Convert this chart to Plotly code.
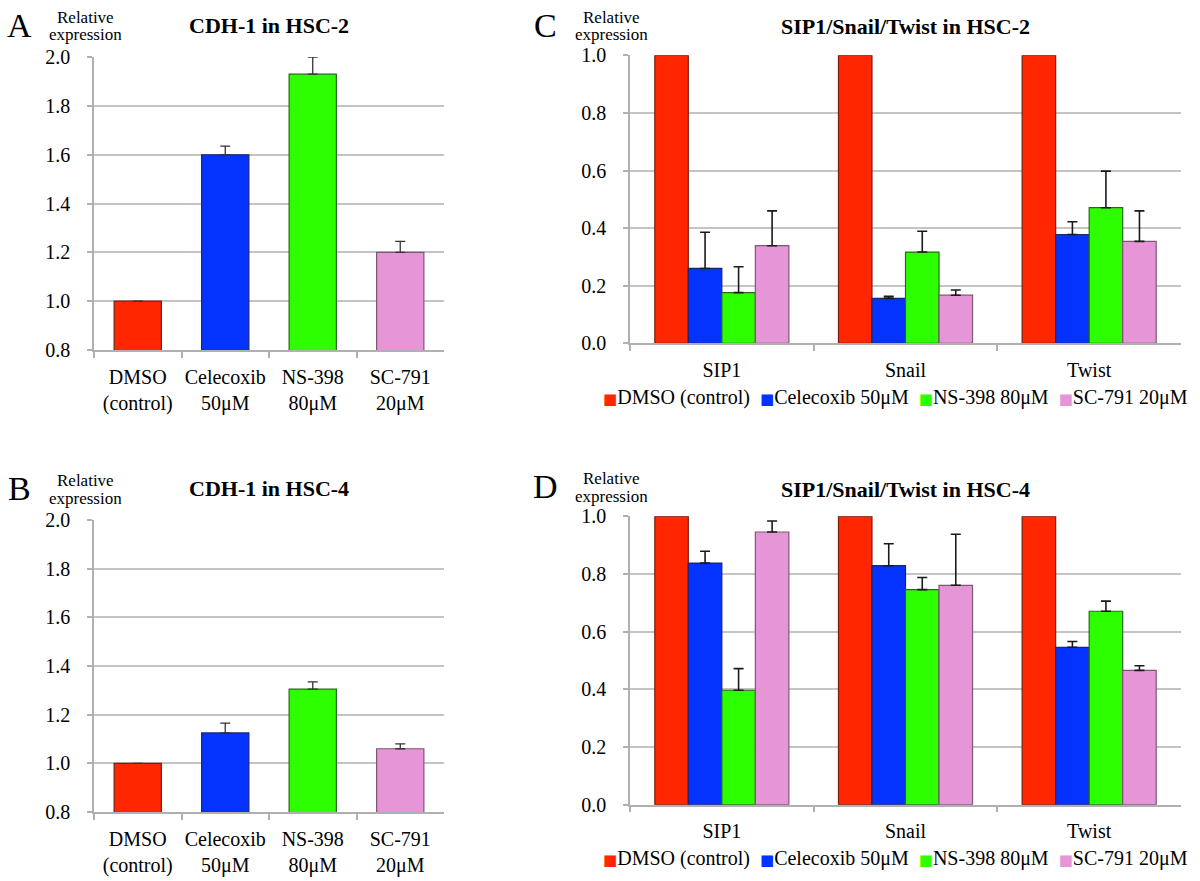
import plotly.graph_objects as go

# ---------------- data ----------------
treatments = ["DMSO (control)", "Celecoxib 50μM", "NS-398 80μM", "SC-791 20μM"]
cdh_labels = ["DMSO<br>(control)", "Celecoxib<br>50μM", "NS-398<br>80μM", "SC-791<br>20μM"]

cdh_hsc2 = [1.00, 1.60, 1.93, 1.20]
cdh_hsc2_err = [None, 0.035, 0.07, 0.045]
cdh_hsc4 = [1.00, 1.125, 1.305, 1.06]
cdh_hsc4_err = [None, 0.04, 0.03, 0.02]

genes = ["SIP1", "Snail", "Twist"]
# HSC-2
c_dmso = [1.0, 1.0, 1.0]
c_cele = [0.26, 0.156, 0.378]
c_cele_err = [0.126, 0.007, 0.044]
c_ns = [0.176, 0.317, 0.471]
c_ns_err = [0.09, 0.072, 0.127]
c_sc = [0.339, 0.167, 0.354]
c_sc_err = [0.121, 0.018, 0.106]
# HSC-4
d_dmso = [1.0, 1.0, 1.0]
d_cele = [0.838, 0.829, 0.546]
d_cele_err = [0.041, 0.076, 0.02]
d_ns = [0.397, 0.746, 0.671]
d_ns_err = [0.075, 0.042, 0.035]
d_sc = [0.946, 0.761, 0.466]
d_sc_err = [0.038, 0.177, 0.016]

# ---------------- style ----------------
FONT = "Liberation Serif, Times New Roman, serif"
fills = ["#FF2600", "#0433FF", "#2EFF00", "#E696D6"]
edges = ["#7A1E10", "#1B2570", "#256B12", "#7D5577"]
GRID = "#c4c4c4"
AXL = "#b0b0b0"

W, H = 1200, 881
def px(x):
    return x / W
def py(y):
    return 1 - y / H

fig = go.Figure()

# Panels A and B (single trace each)
for vals, errs, xa, ya in [(cdh_hsc2, cdh_hsc2_err, "x", "y"),
                           (cdh_hsc4, cdh_hsc4_err, "x3", "y3")]:
    fig.add_trace(go.Bar(
        x=cdh_labels, y=vals, xaxis=xa, yaxis=ya, width=0.54,
        marker=dict(color=fills, line=dict(color=edges, width=1.2)),
        error_y=dict(type="data", array=errs,
                     arrayminus=[0 if e is not None else None for e in errs],
                     symmetric=False, color="#333333", thickness=1.3, width=5),
        showlegend=False, hoverinfo="x+y"))

# Panels C and D (grouped)
bw = 0.1825
for series, xa, ya in [([(c_dmso, None), (c_cele, c_cele_err), (c_ns, c_ns_err), (c_sc, c_sc_err)], "x2", "y2"),
                       ([(d_dmso, None), (d_cele, d_cele_err), (d_ns, d_ns_err), (d_sc, d_sc_err)], "x4", "y4")]:
    for i, (vals, errs) in enumerate(series):
        kw = {}
        if errs is not None:
            kw["error_y"] = dict(type="data", array=errs, arrayminus=[0] * len(errs),
                                 symmetric=False, color="#1a1a1a", thickness=1.6, width=5)
        fig.add_trace(go.Bar(
            x=genes, y=vals, xaxis=xa, yaxis=ya, name=treatments[i],
            width=bw, offset=-2 * bw + i * bw,
            marker=dict(color=fills[i], line=dict(color=edges[i], width=1.2)),
            showlegend=False, **kw))

def yax(domain, rng, anchor):
    return dict(domain=domain, range=rng, anchor=anchor, dtick=0.2, tick0=0,
                tickformat=".1f", showgrid=True, gridcolor=GRID, gridwidth=1.5,
                showline=True, linecolor=AXL, linewidth=1.5, ticks="outside",
                ticklen=5, tickcolor=AXL, tickwidth=1.5, zeroline=False,
                ticklabelstandoff=13, automargin=False,
                tickfont=dict(family=FONT, size=20, color="black"))

def xax(domain, anchor):
    return dict(domain=domain, anchor=anchor, type="category", showgrid=False,
                showline=True, linecolor=AXL, linewidth=1.5, ticks="outside",
                tickson="boundaries", ticklen=6, tickcolor=AXL, tickwidth=1.5,
                zeroline=False, ticklabelstandoff=8, tickangle=0, automargin=False,
                tickfont=dict(family=FONT, size=20, color="black"))

xl = [px(94), px(444)]
xr = [px(630), px(1181)]
yA = [py(350), py(57)]
yB = [py(812), py(520)]
yC = [py(343.3), py(55.3)]
yD = [py(804.7), py(516.3)]

layout = dict(
    width=W, height=H, margin=dict(l=0, r=0, t=0, b=0, autoexpand=False),
    paper_bgcolor="white", plot_bgcolor="white",
    barmode="overlay", showlegend=False,
    font=dict(family=FONT, color="black"),
    xaxis=xax(xl, "y"), yaxis=yax(yA, [0.8, 2.0005], "x"),
    xaxis2=xax(xr, "y2"), yaxis2=yax(yC, [0, 1.0004], "x2"),
    xaxis3=xax(xl, "y3"), yaxis3=yax(yB, [0.8, 2.0005], "x3"),
    xaxis4=xax(xr, "y4"), yaxis4=yax(yD, [0, 1.0004], "x4"),
)
fig.update_layout(**layout)

ann = []
def text(x, y, s, size, xanchor="center"):
    ann.append(dict(x=px(x), y=py(y), xref="paper", yref="paper", text=s,
                    showarrow=False, xanchor=xanchor, yanchor="middle",
                    font=dict(family=FONT, size=size, color="black")))

# panel letters
text(19, 25, "A", 34)
text(19, 488, "B", 34)
text(545, 25, "C", 34)
text(545, 487, "D", 34)
# y-axis captions
for (xc, y1) in [(85, 17), (85, 480), (611, 17), (611, 478)]:
    text(xc, y1, "Relative", 17)
    text(xc, y1 + 18, "expression", 17)
# titles
text(269, 25, "<b>CDH-1 in HSC-2</b>", 22)
text(269, 488, "<b>CDH-1 in HSC-4</b>", 22)
text(905, 27, "<b>SIP1/Snail/Twist in HSC-2</b>", 22)
text(905, 489, "<b>SIP1/Snail/Twist in HSC-4</b>", 22)

# legends for C and D (built from series names and colours)
legend_html = " &nbsp;".join(
    f"<span style='color:{fills[i]};font-family:DejaVu Sans;font-size:15px'>■</span>{treatments[i]}"
    for i in range(len(treatments)))
text(895, 398, legend_html, 20)
text(895, 858, legend_html, 20)

fig.update_layout(annotations=ann)
fig.write_html("out.html", config={"displayModeBar": False},
               post_script="document.body.style.margin='0';document.body.style.padding='0';")
